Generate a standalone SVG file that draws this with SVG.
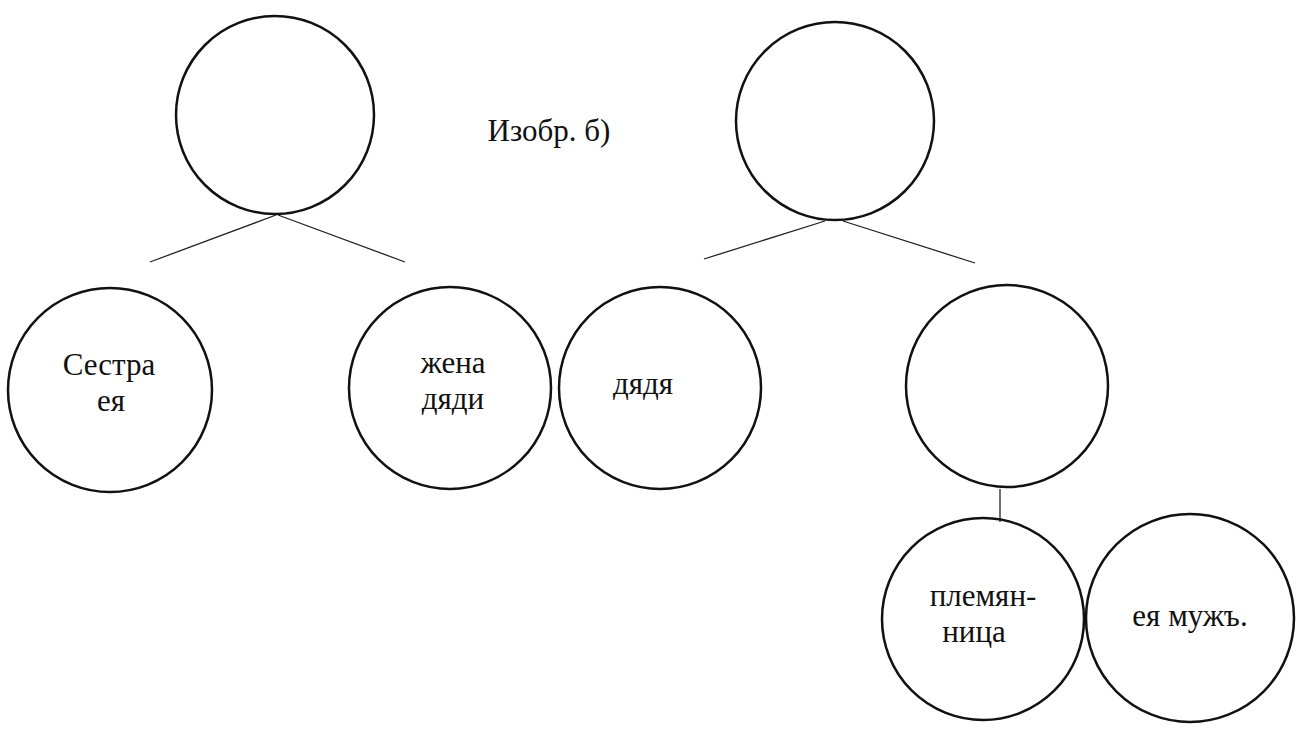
<svg xmlns="http://www.w3.org/2000/svg" width="1312" height="729" viewBox="0 0 1312 729">
<style>
.n{fill:none;stroke:#111;stroke-width:2.5}
.c{stroke:#222;stroke-width:1.3;fill:none}
.t{font-family:"Liberation Serif","DejaVu Serif",serif;font-size:31px;fill:#111;text-anchor:middle}
</style>
<rect width="1312" height="729" fill="#fff"/>
<g id="connectors">
<line class="c" x1="276" y1="215" x2="150" y2="262"/>
<line class="c" x1="278" y1="215" x2="405" y2="262"/>
<line class="c" x1="825" y1="221" x2="704" y2="259"/>
<line class="c" x1="843" y1="221" x2="975" y2="263"/>
<line class="c" x1="1000" y1="489" x2="1000" y2="522"/>
</g>
<g id="top-left"><circle class="n" cx="275" cy="115" r="99"/></g>
<g id="caption"><text class="t" x="549" y="141">Изобр. б)</text></g>
<g id="top-right"><circle class="n" cx="835" cy="121" r="99"/></g>
<g id="sestra"><circle class="n" cx="110" cy="390" r="102"/><text class="t" x="109" y="375">Сестра</text><text class="t" x="111" y="411">ея</text></g>
<g id="zhena"><circle class="n" cx="450" cy="388" r="101"/><text class="t" x="453" y="373">жена</text><text class="t" x="453" y="409">дяди</text></g>
<g id="dyadya"><circle class="n" cx="660" cy="388" r="101"/><text class="t" x="643" y="394">дядя</text></g>
<g id="right-middle"><circle class="n" cx="1007" cy="386" r="101"/></g>
<g id="plemyannitsa"><circle class="n" cx="983" cy="619" r="101"/><text class="t" x="983" y="606">племян-</text><text class="t" x="974" y="642">ница</text></g>
<g id="muzh"><circle class="n" cx="1190" cy="618" r="104"/><text class="t" x="1190" y="626">ея мужъ.</text></g>
</svg>
